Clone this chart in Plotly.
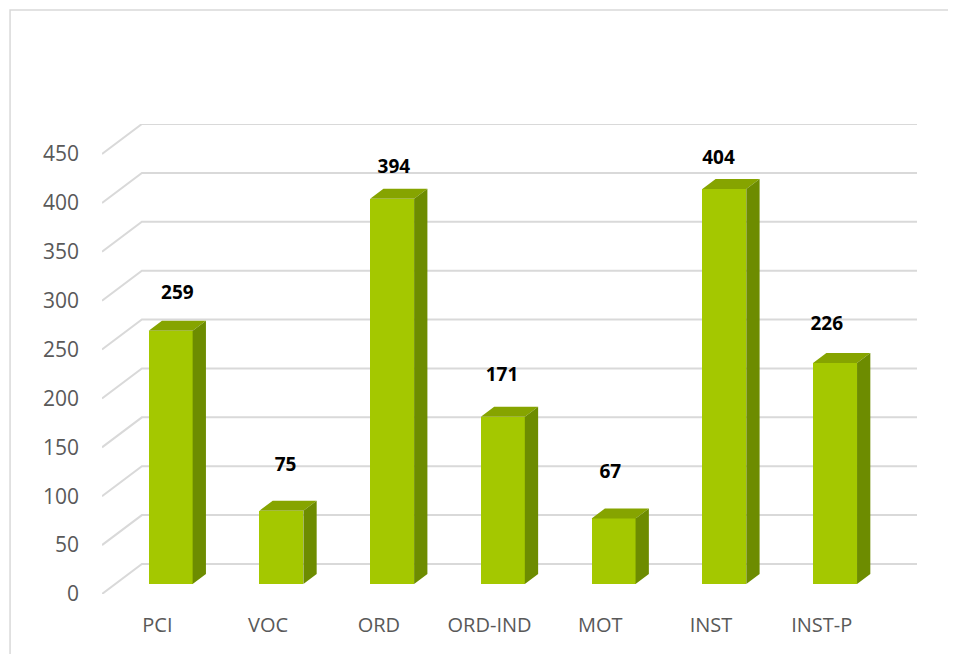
import plotly.graph_objects as go

# ---- data ----
categories = ["PCI", "VOC", "ORD", "ORD-IND", "MOT", "INST", "INST-P"]
values = [259, 75, 394, 171, 67, 404, 226]
y_ticks = [0, 50, 100, 150, 200, 250, 300, 350, 400, 450]

# ---- geometry / style (pixel based constants) ----
OFF = 8                  # default page body margin
W, H = 956 - OFF, 654 - OFF
PX_X = 110.8             # pixels per category unit
PX_Y = 440 / 450         # pixels per value unit
X0_PIX, Y0_PIX = 102 - OFF, 594 - OFF
DEPTH_DX_PIX, DEPTH_DY_PIX = 13.3, 10.0   # one third of the depth
BAR_W_PIX = 44

dx = DEPTH_DX_PIX / PX_X
db = DEPTH_DY_PIX / PX_Y
bw = BAR_W_PIX / PX_X

x_min = -0.5
x_max = len(categories) - 0.5 + 3 * dx
y_min = 0
y_max = y_ticks[-1] + 3 * db

front_col = "#a4c800"
top_col = "#86a400"
side_col = "#6d8c00"
grid_col = "#d9d9d9"

fig = go.Figure()

# gridlines (front diagonal + back horizontal) as shapes below the bars
shapes = []
for t in y_ticks:
    path = "M {} {} L {} {} L {} {}".format(
        x_min, t, x_min + 3 * dx, t + 3 * db, len(categories) - 0.5 + 3 * dx, t + 3 * db)
    shapes.append(dict(type="path", xref="x", yref="y", path=path,
                       line=dict(color=grid_col, width=2), layer="below"))

# bars: front face
idx = list(range(len(categories)))
fig.add_trace(go.Bar(x=[i + dx for i in idx], y=values, base=[db] * len(values),
                     width=bw, marker=dict(color=front_col, line=dict(width=0)),
                     showlegend=False, hoverinfo="skip"))

# top & side faces
tx, ty, sx, sy = [], [], [], []
for i, v in zip(idx, values):
    xl = i + dx - bw / 2
    xr = i + dx + bw / 2
    tx += [xl, xr, xr + dx, xl + dx, xl, None]
    ty += [v + db, v + db, v + 2 * db, v + 2 * db, v + db, None]
    sx += [xr, xr + dx, xr + dx, xr, xr, None]
    sy += [db, 2 * db, v + 2 * db, v + db, db, None]
fig.add_trace(go.Scatter(x=tx, y=ty, mode="lines", fill="toself", fillcolor=top_col,
                         line=dict(width=0, color=top_col), hoverinfo="skip",
                         showlegend=False))
fig.add_trace(go.Scatter(x=sx, y=sy, mode="lines", fill="toself", fillcolor=side_col,
                         line=dict(width=0, color=side_col), hoverinfo="skip",
                         showlegend=False))

# data labels (slight perspective drift as in the 3-D original)
lab_x = [i + (20 - 2.5 * i) / PX_X for i in idx]
lab_y = [v + db + (48 - 0.045 * v) / PX_Y for v in values]
fig.add_trace(go.Scatter(x=lab_x, y=lab_y, mode="text", text=[str(v) for v in values],
                         textposition="middle center", cliponaxis=False,
                         textfont=dict(family="Open Sans", size=19, color="#000000",
                                       weight="bold"),
                         hoverinfo="skip", showlegend=False))

# plot area in pixels
left = X0_PIX
right = W - (X0_PIX + (x_max - x_min) * PX_X)
bottom = H - Y0_PIX
top_margin = Y0_PIX - (y_max - y_min) * PX_Y
pw = W - left - right
ph = H - top_margin - bottom

# outer chart border (from pixel 10,10 to beyond the window)
shapes.append(dict(type="rect", xref="paper", yref="paper",
                   x0=(10 - OFF - left) / pw, x1=(W + 20 - left) / pw,
                   y0=-(bottom + 20) / ph, y1=1 + (top_margin - (10 - OFF)) / ph,
                   line=dict(color="#d9d9d9", width=1.5), fillcolor="rgba(0,0,0,0)",
                   layer="below"))

fig.update_layout(
    width=W, height=H,
    margin=dict(l=left, r=right, t=top_margin, b=bottom, pad=0),
    paper_bgcolor="white", plot_bgcolor="rgba(0,0,0,0)",
    font=dict(family="Open Sans", color="#595959", size=20),
    bargap=0,
    xaxis=dict(range=[x_min, x_max], tickmode="array", tickvals=idx, ticktext=categories,
               showgrid=False, zeroline=False, showline=False, ticks="",
               ticklabelstandoff=17, tickfont=dict(size=20, color="#595959"),
               fixedrange=True),
    yaxis=dict(range=[y_min, y_max], tickmode="array", tickvals=y_ticks,
               showgrid=False, zeroline=False, showline=False, ticks="",
               ticklabelstandoff=22, tickfont=dict(size=21, color="#595959"),
               fixedrange=True),
    shapes=shapes,
)

fig.write_html("out.html")
